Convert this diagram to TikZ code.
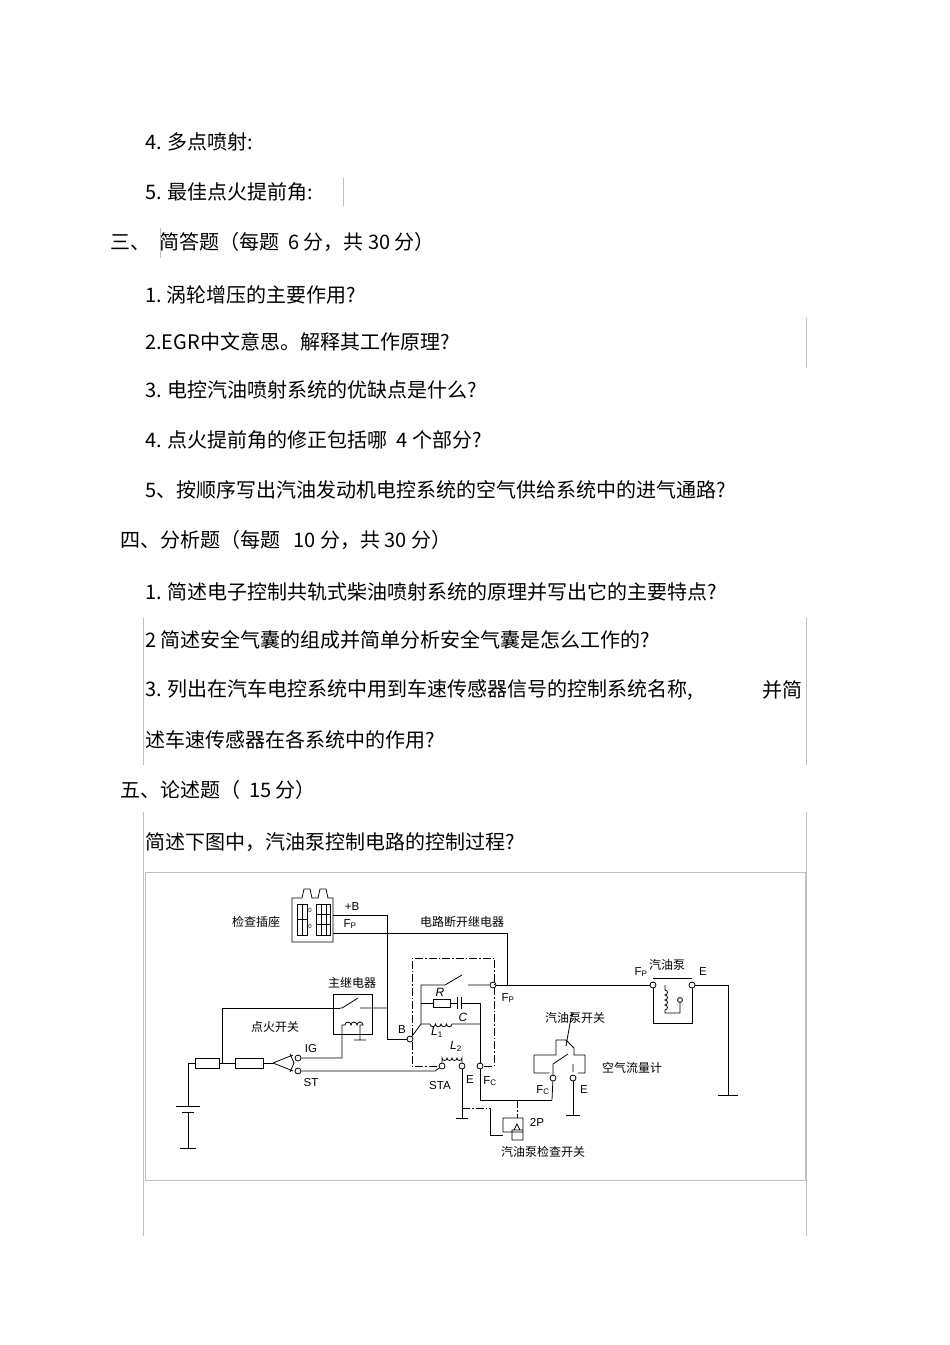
\documentclass[tikz,border=0pt]{standalone}
\usepackage{fontspec}
\setmainfont{Liberation Sans}
\newfontfamily\cjk{Noto Sans CJK SC}
\begin{document}
\begin{tikzpicture}[x=1pt,y=-1pt,
  txt/.style={anchor=west,inner sep=0,font=\cjk\fontsize{20}{20}\selectfont},
  lbl/.style={inner sep=0,font=\cjk\fontsize{12}{12}\selectfont},
  sm/.style={inner sep=0,font=\fontsize{11.5}{11.5}\selectfont},
  gl/.style={draw=black!25,line width=0.8},
  w/.style={line width=0.8},
  dd/.style={line width=0.8,dash pattern=on 8pt off 2pt on 1.5pt off 2pt},
  term/.style={circle,draw,fill=white,inner sep=0,minimum size=6,line width=0.8}]
\useasboundingbox (0,0) rectangle (950,1345);
% text
\node[txt] (t1) at (145,142) {4. 多点喷射:};
\node[txt] (t2) at (145,192) {5. 最佳点火提前角:};
\node[txt] (t3) at (110,242) {三、\ \ 简答题（每题\ \ 6 分，共\ 30 分）};
\node[txt] (t4) at (145,295) {1.\ 涡轮增压的主要作用?};
\node[txt] (t5) at (145,342) {2.EGR中文意思。解释其工作原理?};
\node[txt] (t6) at (145,390) {3. 电控汽油喷射系统的优缺点是什么?};
\node[txt] (t7) at (145,440) {4. 点火提前角的修正包括哪\ \ 4 个部分?};
\node[txt] (t8) at (145,490) {5、按顺序写出汽油发动机电控系统的空气供给系统中的进气通路?};
\node[txt] (t9) at (120,540) {四、分析题（每题\ \ \ 10 分，共\ 30 分）};
\node[txt] (t10) at (145,592) {1. 简述电子控制共轨式柴油喷射系统的原理并写出它的主要特点?};
\node[txt] (t11) at (145,640) {2 简述安全气囊的组成并简单分析安全气囊是怎么工作的?};
\node[txt] (t12) at (145,690) {3. 列出在汽车电控系统中用到车速传感器信号的控制系统名称,};
\node[txt] (t12b) at (762,690) {并简};
\node[txt] (t13) at (145,740) {述车速传感器在各系统中的作用?};
\node[txt] (t14) at (120,790) {五、论述题（\ \ 15 分）};
\node[txt] (t15) at (145,842) {简述下图中，汽油泵控制电路的控制过程?};
% gray lines
\draw[gl] (343,178)--(343,206) (160,228)--(160,258) (806,318)--(806,367)
 (806,618)--(806,765) (143,618)--(143,765) (143,812)--(143,1236) (806,812)--(806,1236);
\draw[gl] (145,872) rectangle (805,1180);
% battery
\coordinate (bt) at (188,1063);
\draw[w] (bt)--(188,1106) (176,1106)--(200,1106) (182,1112)--(194,1112) (188,1112)--(188,1148) (180,1148)--(196,1148);
\draw[w] (bt)--(195,1063) (195,1058) rectangle (219,1068) (219,1063)--(235,1063) (235,1058) rectangle (263,1068) (263,1063)--(273,1063);
\coordinate (j1) at (222,1063);
\draw[w] (j1)--(222,1008)--(340,1008);
% ignition switch
\draw[w] (273,1063)--(293,1055) (273,1063)--(293,1071) (290,1054)--(294,1063)--(290,1072);
\node[term] (ig) at (298,1058) {};
\node[term] (st) at (298,1071) {};
\node[sm] at (311,1049) {IG};
\node[sm] at (311,1083) {ST};
% main relay
\draw[w] (333,994) rectangle (372,1034);
\node[lbl] at (352,983) {主继电器};
\draw[w] (340,1008) -- (342,1008)--(358,998) (360,1008)--(387,1008);
\draw[w] (ig)--(342,1058)--(342,1025)--(345,1025) arc[start angle=180,end angle=360,radius=3] arc[start angle=180,end angle=360,radius=3] arc[start angle=180,end angle=360,radius=3]--(360,1025)--(360,1040) (354,1040)--(366,1040);
\node[lbl] at (275,1027) {点火开关};
% check connector
\draw[w] (292,898)--(302,898)--(304,889)--(310,889)--(312,898)--(318,898)--(320,889)--(326,889)--(328,898)--(333,898)--(333,942)--(292,942)--cycle;
\draw[w] (297,904) rectangle (307,935) (316,904) rectangle (330,935) (297,919)--(307,919) (302,904)--(302,935) (316,914)--(330,914) (316,924)--(330,924) (321,904)--(321,935) (326,904)--(326,935);
\node[sm] at (310,910) {\fontsize{6}{6}\selectfont 0};
\node[sm] at (310,926) {\fontsize{6}{6}\selectfont 0};
\node[lbl] at (256,922) {检查插座};
\node[sm] at (352,907) {+B};
\node[sm] at (350,924) {F\textsubscript{P}};
\node[lbl] at (462,922) {电路断开继电器};
% +B line
\node[term] (B) at (410,1039) {};
\draw[w] (333,915)--(387,915)--(387,1039)--(B);
\node[sm] at (402,1030) {B};
% Fp line
\node[term] (fp) at (493,985) {};
\draw[w] (333,933)--(507,933)--(507,985);
% cutout relay outline
\draw[dd] (412,1036)--(412,958)--(494,958)--(494,1066)--(482,1066);
\draw[dd] (412,1042)--(412,1066)--(439,1066);
% inner
\draw[w] (B)--(421,1024)--(421,985)--(445,985)--(462,975) (468,985)--(fp);
\draw[w] (421,1003)--(433,1003) (433,999) rectangle (450,1007) (450,1003)--(457,1003) (457,997)--(457,1009) (461,997)--(461,1009) (461,1003)--(480,1003);
\draw[w] (421,1024)--(430,1024) \foreach \i in {1,...,4}{arc[start angle=180,end angle=0,radius=2.75]} --(480,1024);
\node[sm,font=\itshape\fontsize{12}{12}\selectfont] at (440,992) {R};
\node[sm,font=\itshape\fontsize{12}{12}\selectfont] at (463,1017) {C};
\node[sm,font=\itshape\fontsize{12}{12}\selectfont] at (437,1032) {L\textsubscript{\upshape 1}};
\node[sm,font=\itshape\fontsize{12}{12}\selectfont] at (456,1046) {L\textsubscript{\upshape 2}};
\node[term] (sta) at (442,1066) {};
\node[term] (e1) at (462,1066) {};
\node[term] (fc) at (480,1066) {};
\draw[w] (st)--(435,1071)--(sta);
\draw[w] (sta)--(442,1058) \foreach \i in {1,...,4}{arc[start angle=180,end angle=0,radius=2.5]} --(e1);
\draw[w] (480,1003)--(fc) (e1)--(462,1118) (456,1118)--(468,1118);
\node[sm] at (440,1086) {STA};
\node[sm] at (470,1080) {E};
\node[sm] at (490,1081) {F\textsubscript{C}};
\node[sm] at (508,998) {F\textsubscript{P}};
% check switch
\draw[w] (fc)--(480,1100)--(552,1100);
\draw[dd] (517,1100)--(517,1118) (462,1108)--(490,1108);
\draw[w] (490,1108)--(490,1135)--(503,1135);
\draw[w] (503,1118) rectangle (523,1132) (512,1130) rectangle (523,1140) (514,1130)--(517,1124)--(520,1130);
\node[sm] at (537,1122) {2P};
\node[lbl] at (543,1152) {汽油泵检查开关};
% air flow meter
\node[term] (afc) at (553,1078) {};
\node[term] (afe) at (573,1078) {};
\draw[w] (552,1100)--(afc);
\draw[w] (534,1055)--(556,1055)--(556,1040)--(566,1040)--(574,1048)--(574,1055)--(585,1055)--(585,1073)--(578,1073)
 (534,1055)--(534,1073)--(549,1073);
\draw[w] (afc)--(553,1064)--(568,1054) (573,1064)--(573,1072) (566,1046)--(572,1012);
\draw[w] (afe)--(573,1115) (566,1115)--(580,1115);
\node[lbl] at (575,1018) {汽油泵开关};
\node[lbl] at (632,1068) {空气流量计};
\node[sm] at (543,1090) {F\textsubscript{C}};
\node[sm] at (584,1090) {E};
% fuel pump
\node[term] (pfp) at (653,985) {};
\node[term] (pe) at (692,985) {};
\draw[w] (fp)--(pfp);
\draw[w] (653,978)--(692,978) (pfp)--(653,1023)--(692,1023)--(pe);
\draw[w] (665,985)--(665,990) \foreach \i in {1,...,4}{arc[start angle=-90,end angle=90,radius=2.5]} --(665,1013)--(680,1013)--(680,1003);
\node[term,minimum size=5] at (680,1000) {};
\draw[w] (pe)--(728,985)--(728,1095) (718,1095)--(738,1095);
\node[lbl] at (667,965) {汽油泵};
\node[sm] at (641,972) {F\textsubscript{P}};
\node[sm] at (703,972) {E};
\end{tikzpicture}
\end{document}
